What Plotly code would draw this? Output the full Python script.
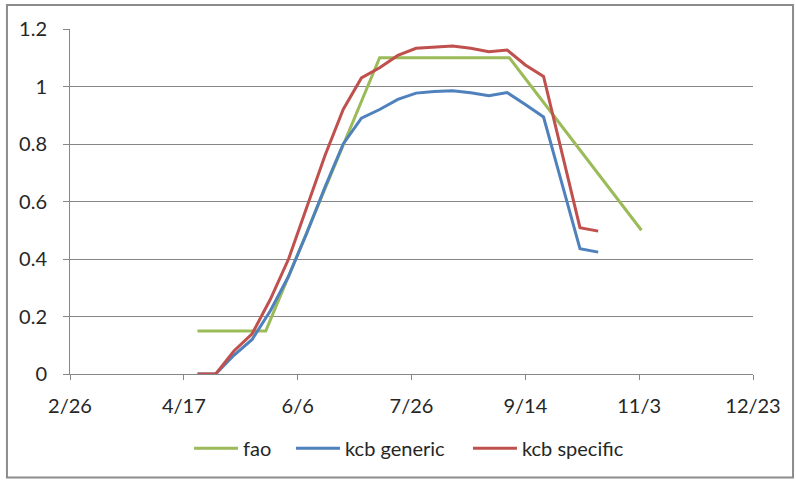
import plotly.graph_objects as go

# 8-day composite dates for the crop coefficient series
kcb_dates = [
    "2011-04-23", "2011-05-01", "2011-05-09", "2011-05-17", "2011-05-25",
    "2011-06-02", "2011-06-10", "2011-06-18", "2011-06-26", "2011-07-04",
    "2011-07-12", "2011-07-20", "2011-07-28", "2011-08-05", "2011-08-13",
    "2011-08-21", "2011-08-29", "2011-09-06", "2011-09-14", "2011-09-22",
    "2011-09-30", "2011-10-08", "2011-10-16",
]
kcb_generic = [
    0.0, 0.0, 0.065, 0.12, 0.22, 0.34, 0.49, 0.65, 0.80, 0.89,
    0.92, 0.955, 0.977, 0.983, 0.985, 0.978, 0.968, 0.979, 0.937, 0.894,
    0.665, 0.436, 0.424,
]
kcb_specific = [
    0.0, 0.0, 0.08, 0.14, 0.26, 0.40, 0.58, 0.76, 0.92, 1.03,
    1.065, 1.108, 1.133, 1.138, 1.141, 1.133, 1.121, 1.127, 1.075, 1.035,
    0.772, 0.509, 0.497,
]

# FAO-56 stage breakpoints (initial, development, mid-season, late season)
fao_dates = ["2011-04-23", "2011-05-23", "2011-07-12", "2011-09-07", "2011-11-04"]
fao_values = [0.15, 0.15, 1.10, 1.10, 0.50]

GREEN = "#9BBB59"
BLUE = "#4F81BD"
RED = "#C0504D"
AXIS = "#868686"
TEXT = "#262626"
FONT = "Lato, 'Open Sans', sans-serif"

fig = go.Figure()
fig.add_trace(go.Scatter(x=fao_dates, y=fao_values, mode="lines", name="fao",
                         line=dict(color=GREEN, width=3), legend="legend"))
fig.add_trace(go.Scatter(x=kcb_dates, y=kcb_generic, mode="lines", name="kcb generic",
                         line=dict(color=BLUE, width=3), legend="legend2"))
fig.add_trace(go.Scatter(x=kcb_dates, y=kcb_specific, mode="lines", name="kcb specific",
                         line=dict(color=RED, width=3), legend="legend3"))


def legend_box(x):
    # one legend entry per box, laid out in a row under the x axis
    return dict(orientation="h", x=x, xanchor="left", y=-0.215, yanchor="middle",
                font=dict(size=20, color=TEXT), itemwidth=44,
                bgcolor="rgba(0,0,0,0)")


fig.update_layout(
    width=796, height=482,
    margin=dict(l=70, r=43, t=29, b=107.5),
    paper_bgcolor="white", plot_bgcolor="white",
    font=dict(family=FONT, size=20, color=TEXT),
    showlegend=True,
    legend=legend_box(0.1743),
    legend2=legend_box(0.3236),
    legend3=legend_box(0.5827),
    shapes=[dict(type="rect", xref="paper", yref="paper",
                 x0=-0.0923, x1=1.0586, y0=-0.3002, y1=1.0695,
                 line=dict(color="#8c8c8c", width=2), layer="below")],
)

fig.update_xaxes(
    type="date",
    range=["2011-02-26", "2011-12-23"],
    tick0="2011-02-26", dtick=50 * 86400000,
    tickformat="%-m/%-d",
    showgrid=False, zeroline=False,
    showline=True, linecolor=AXIS, linewidth=1,
    ticks="outside", ticklen=5, tickcolor=AXIS,
    ticklabelstandoff=9,
)
fig.update_yaxes(
    range=[0, 1.2], dtick=0.2, tick0=0,
    showgrid=True, gridcolor=AXIS, gridwidth=1,
    zeroline=False,
    showline=True, linecolor=AXIS, linewidth=1,
    ticks="outside", ticklen=6, tickcolor=AXIS,
    ticklabelstandoff=12,
)

fig.write_html("out.html")
